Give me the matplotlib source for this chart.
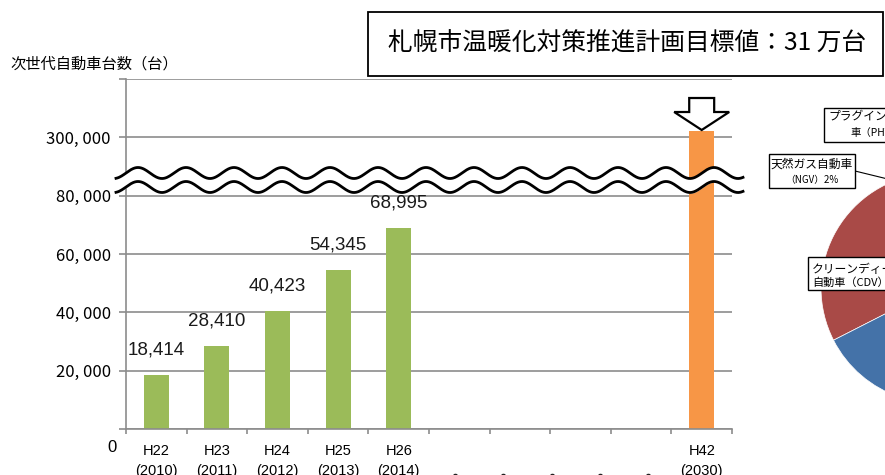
import numpy as np
import matplotlib
matplotlib.use("Agg")
import matplotlib.pyplot as plt
from matplotlib.patches import Polygon, Rectangle
from matplotlib.lines import Line2D
import matplotlib.transforms as mtransforms

plt.rcParams['font.family'] = ['Noto Sans CJK JP', 'DejaVu Sans']

# ---- data ----
categories = ['H22\n(2010)', 'H23\n(2011)', 'H24\n(2012)', 'H25\n(2013)', 'H26\n(2014)',
              '', '', '', '', 'H42\n(2030)']
actual_idx = [0, 1, 2, 3, 4]
actual_vals = [18414, 28410, 40423, 54345, 68995]
target_idx = [9]
target_vals = [310000]

ytick_vals = [0, 20000, 40000, 60000, 80000, 300000]
ytick_labels = ['', '20, 000', '40, 000', '60, 000', '80, 000', '300, 000']

title = '札幌市温暖化対策推進計画目標値：31 万台'
ylabel = '次世代自動車台数（台）'

# pie (only the left part is visible in the picture)
pie_names = ['EV', 'PHV', 'NGV', 'CDV', 'HV']
pie_shares = [10, 8, 2, 30, 50]
pie_colors = ['#86A44A', '#71588F', '#4198AF', '#A94A47', '#4472A8']

# broken y axis: 90k..300k squeezed, 300k+ stretched a little
brk_real = [-1e6, 90000, 300000, 1e6]
brk_disp = [-1e6, 90000, 100000, 100000 + 700000 * 0.217]


def fwd(v):
    return np.interp(v, brk_real, brk_disp)


def inv(d):
    return np.interp(d, brk_disp, brk_real)


W, H = 885, 475
fig = plt.figure(figsize=(W / 100, H / 100), dpi=100)
ax = fig.add_axes([126 / W, 1 - 429 / H, 606 / W, 350 / H])

ax.set_yscale('function', functions=(fwd, inv))
ytop = float(inv(120000))
ax.set_ylim(0, ytop)
ax.set_xlim(-0.5, len(categories) - 0.5)

bars = ax.bar(actual_idx, actual_vals, width=0.41, color='#9BBB59', zorder=2)
ax.bar(target_idx, target_vals, width=0.41, color='#F79646', zorder=2)
ax.bar_label(bars, labels=[f'{v:,}' for v in actual_vals], padding=12,
             fontsize=13.5, family='Liberation Sans', color='#1a1a1a')

gray = '#8c8c8c'
ax.set_yticks(ytick_vals + [ytop])
ax.set_yticklabels(ytick_labels + [''], fontsize=12)
ax.yaxis.grid(True, color=gray, lw=1.2)
ax.set_axisbelow(True)
ax.tick_params(axis='y', length=5, width=1.2, color=gray, pad=5.8)

ax.set_xticks(np.arange(len(categories)))
ax.set_xticklabels(categories, fontsize=10.5, family='Liberation Sans', linespacing=1.5)
ax.tick_params(axis='x', which='major', length=0, pad=11)
ax.set_xticks(np.arange(len(categories) + 1) - 0.5, minor=True)
ax.tick_params(axis='x', which='minor', length=3.5, width=1.2, color=gray)

for s in ['top', 'right']:
    ax.spines[s].set_visible(False)
for s in ['left', 'bottom']:
    ax.spines[s].set_color(gray)
    ax.spines[s].set_linewidth(1.2)

ax.annotate('0', xy=(0, 0), xycoords='axes fraction', xytext=(-9, -19),
            textcoords='offset pixels', ha='right', va='center',
            fontsize=12, family='Liberation Sans')

# break marks (double wave)
x_px = np.linspace(116, 743, 800)
xa = (x_px - 126) / 606
amp = 5.5 / 350
wave = amp * np.cos(2 * np.pi * (x_px - 138) / 48)
y_top = (429 - 173) / 350 + wave
y_bot = (429 - 187) / 350 + wave
ax.fill_between(xa, y_bot, y_top, color='white', transform=ax.transAxes,
                clip_on=False, zorder=5)
ax.plot(xa, y_top, color='black', lw=2, transform=ax.transAxes, clip_on=False, zorder=6)
ax.plot(xa, y_bot, color='black', lw=2, transform=ax.transAxes, clip_on=False, zorder=6)

# down arrow above the target bar
c = target_idx[0]
blend = mtransforms.blended_transform_factory(ax.transData, ax.transAxes)
arrow = Polygon([(c - 0.206, 0.9457), (c + 0.206, 0.9457), (c + 0.206, 0.9057),
                 (c + 0.454, 0.9057), (c, 0.8543), (c - 0.454, 0.9057),
                 (c - 0.206, 0.9057)], closed=True, fc='white', ec='black',
                lw=1.6, transform=blend, clip_on=False, zorder=4)
ax.add_patch(arrow)

# y title
fig.text(10 / W, 1 - 64 / H, ylabel, ha='left', va='center', fontsize=11)

# title box
fig.add_artist(Rectangle((368 / W, 1 - 76 / H), (883 - 368) / W, 64 / H,
                         transform=fig.transFigure, fill=False, ec='black', lw=1.3))
fig.text(388 / W, 1 - 44 / H, title, ha='left', va='center', fontsize=17.8)

# pie on the right (cut by the edge)
pax = fig.add_axes([821 / W, 1 - 403 / H, 230 / W, 230 / H])
pax.pie(pie_shares, colors=pie_colors, startangle=27, counterclock=True, radius=1,
        wedgeprops=dict(edgecolor='white', linewidth=0.5))
pax.set_xlim(-1, 1)
pax.set_ylim(-1, 1)


def label_box(x0, y0, x1, y1, lines):
    fig.add_artist(Rectangle((x0 / W, 1 - y1 / H), (x1 - x0) / W, (y1 - y0) / H,
                             transform=fig.transFigure, fc='white', ec='black',
                             lw=1.0, zorder=10))
    for txt, x, y, ha, fs in lines:
        fig.text(x / W, 1 - y / H, txt, ha=ha, va='center', fontsize=fs, zorder=11)


shares = dict(zip(pie_names, pie_shares))
fig.add_artist(Line2D([855 / W, 900 / W], [1 - 171 / H, 1 - 182 / H],
                      transform=fig.transFigure, color='black', lw=0.8, zorder=9))
label_box(769, 154, 855, 188, [('天然ガス自動車', 812, 164, 'center', 8.5),
                               (f'（NGV）{shares["NGV"]}%', 812, 180, 'center', 7)])
label_box(824, 108, 960, 142, [('プラグインハイブリッド', 828, 117, 'left', 8.5),
                               (f'車（PHV）{shares["PHV"]}%', 850, 133, 'left', 7.5)])
label_box(808, 257, 960, 290, [('クリーンディーゼル', 812, 269, 'left', 8.5),
                               (f'自動車（CDV）{shares["CDV"]}%', 812, 283, 'left', 8)])

# cut-off dots along the bottom edge
for xd in [455, 503, 552, 600, 648]:
    fig.add_artist(Line2D([xd / W], [1 - 476 / H], marker='o', ms=3, color='#222222',
                          ls='none', transform=fig.transFigure))

fig.savefig('out.png', dpi=100)
